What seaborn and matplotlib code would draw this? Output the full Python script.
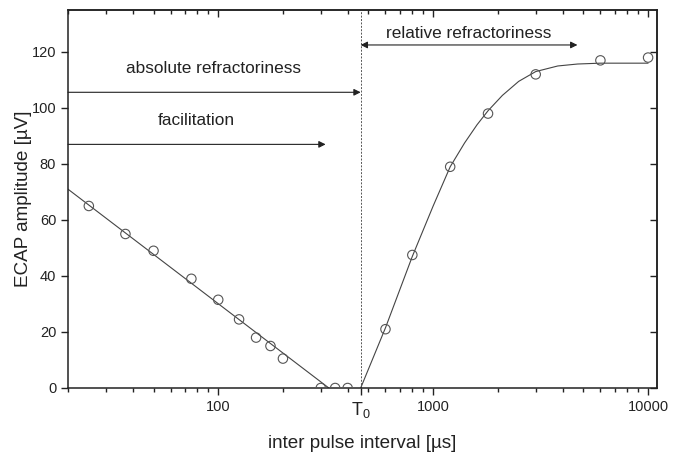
#!/usr/bin/env python
''' ECAP amplitude versus inter pulse interval (recovery function).
'''

import pandas as pd
import seaborn as sns
import matplotlib.pyplot as plt
from matplotlib.ticker import LogLocator, NullFormatter, FixedLocator

# Measured points, below and above T0.
early_ipi = [25, 37, 50, 75, 100, 125, 150, 175, 200, 300, 350, 400]
early_amp = [65, 55, 49, 39, 31.5, 24.5, 18, 15, 10.5, 0, 0, 0]
late_ipi = [600, 800, 1200, 1800, 3000, 6000, 10000]
late_amp = [21, 47.5, 79, 98, 112, 117, 118]

# Fitted curves.
fit_early_ipi = [20, 327]
fit_early_amp = [71, 0]
fit_late_ipi = [460, 600, 800, 1000, 1200, 1400, 1600, 1800, 2100, 2500,
                3000, 3800, 4700, 6000, 10000]
fit_late_amp = [0, 21.5, 47, 65, 79, 87.5, 94, 99, 104.5, 109.5,
                113, 115, 115.7, 116, 116]

T0 = 460
x_ticks = [100, T0, 1000, 10000]
x_tick_labels = ['100', '$T_0$', '1000', '10000']
y_ticks = [0, 20, 40, 60, 80, 100, 120]

INK = '#222222'


def main():
    sns.set_style('ticks')
    plt.rcParams['font.family'] = ['Liberation Sans', 'DejaVu Sans']
    plt.rcParams['mathtext.default'] = 'regular'

    fig = plt.figure(figsize=(6.78, 4.53), dpi=100)
    ax = fig.add_axes([0.1003, 0.1435, 0.8687, 0.8345])

    points = pd.DataFrame({'ipi': early_ipi + late_ipi,
                           'amp': early_amp + late_amp})
    sns.scatterplot(data=points, x='ipi', y='amp', ax=ax, marker='o',
                    s=46, facecolor='none', edgecolor='#555555',
                    linewidth=0.8, zorder=3)

    for xs, ys in [(fit_early_ipi, fit_early_amp),
                   (fit_late_ipi, fit_late_amp)]:
        sns.lineplot(x=xs, y=ys, ax=ax, sort=False, estimator=None,
                     color='#444444', linewidth=0.8)

    ax.set_xscale('log')
    ax.set_xlim(20, 11000)
    ax.set_ylim(0, 135)

    # T0 marker.
    ax.axvline(T0, color='#555555', linewidth=0.7, linestyle=(0, (2, 1.5)))

    # Arrows and labels.
    arrow = dict(arrowstyle='-|>', color=INK, lw=0.8,
                 mutation_scale=10, shrinkA=0, shrinkB=0)
    ax.annotate('', xy=(T0, 105.6), xytext=(20, 105.6), arrowprops=arrow)
    ax.annotate('', xy=(316, 87), xytext=(20, 87), arrowprops=arrow)
    ax.annotate('', xy=(4690, 122.5), xytext=(T0, 122.5),
                arrowprops=dict(arrow, arrowstyle='<|-|>'))
    ax.text(95.5, 114.2, 'absolute refractoriness', ha='center',
            va='center', fontsize=12.4, color=INK)
    ax.text(79, 95.4, 'facilitation', ha='center', va='center',
            fontsize=12.4, color=INK)
    ax.text(1470, 126.7, 'relative refractoriness', ha='center',
            va='center', fontsize=12.4, color=INK)

    # Ticks: outward on bottom/left, mirrored inward on top/right.
    ax.xaxis.set_major_locator(FixedLocator(x_ticks))
    ax.set_xticklabels(x_tick_labels)
    ax.xaxis.set_minor_locator(LogLocator(base=10, subs=range(2, 10)))
    ax.xaxis.set_minor_formatter(NullFormatter())
    ax.set_yticks(y_ticks)
    ax.tick_params(which='both', direction='out', colors=INK,
                   labelsize=10.5, width=1)
    ax.tick_params(which='major', length=5)
    ax.tick_params(which='minor', length=3)
    for lbl in ax.get_xticklabels():
        if lbl.get_text() == '$T_0$':
            lbl.set_fontsize(13)

    top = ax.secondary_xaxis('top')
    top.xaxis.set_major_locator(FixedLocator([100, 1000, 10000]))
    top.xaxis.set_minor_locator(LogLocator(base=10, subs=range(2, 10)))
    top.xaxis.set_major_formatter(NullFormatter())
    top.xaxis.set_minor_formatter(NullFormatter())
    top.tick_params(which='both', direction='in', width=1, colors=INK)
    top.tick_params(which='major', length=5)
    top.tick_params(which='minor', length=3)

    right = ax.secondary_yaxis('right')
    right.set_yticks(y_ticks)
    right.yaxis.set_major_formatter(NullFormatter())
    right.tick_params(direction='in', length=5, width=1, colors=INK)

    for spine in ax.spines.values():
        spine.set_visible(True)
        spine.set_color(INK)
        spine.set_linewidth(1.1)
    for sec in (top, right):
        for spine in sec.spines.values():
            spine.set_color(INK)
            spine.set_linewidth(1.1)

    ax.set_xlabel('inter pulse interval [µs]', fontsize=13.6, color=INK)
    ax.set_ylabel('ECAP amplitude [µV]', fontsize=13.6, color=INK)
    ax.xaxis.set_label_coords(0.5, -0.125)
    ax.yaxis.set_label_coords(-0.061, 0.5)

    fig.savefig('out.png', dpi=100)


if __name__ == '__main__':
    main()
